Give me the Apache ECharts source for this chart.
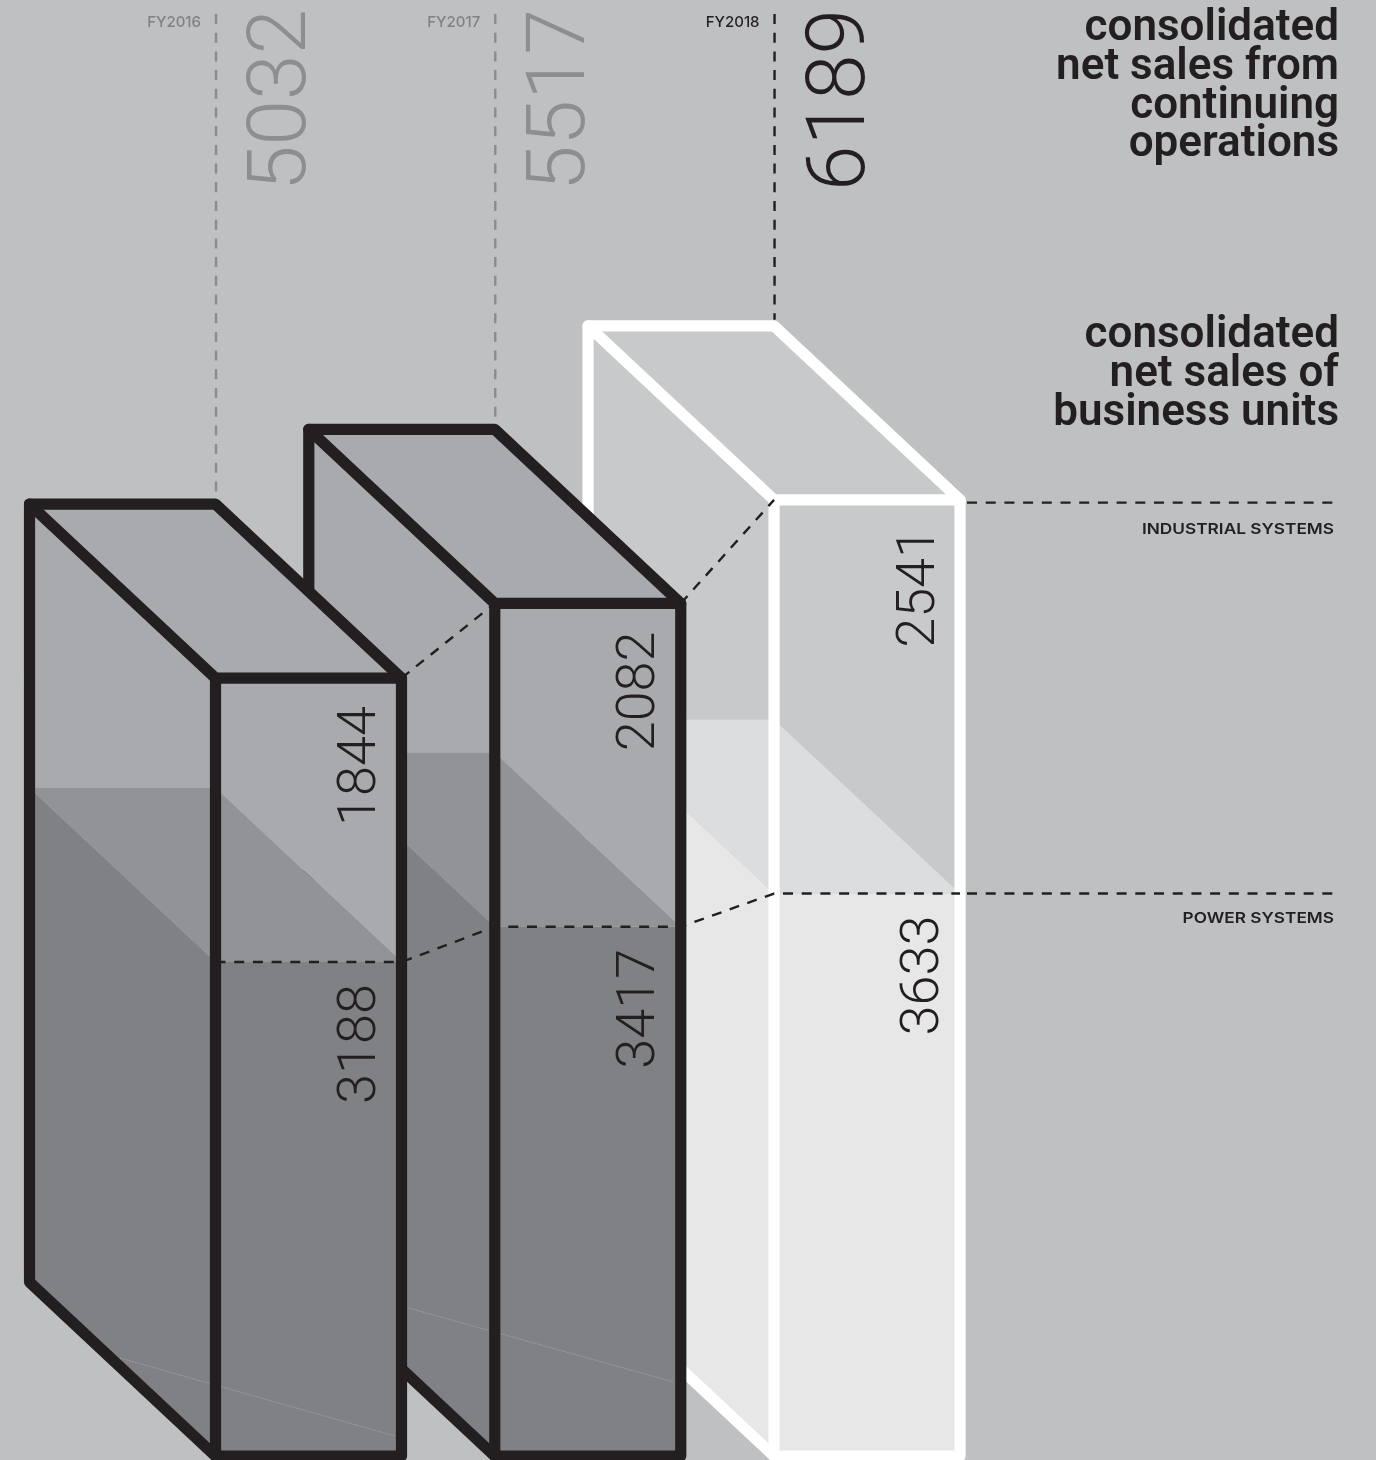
<!DOCTYPE html>
<html>
<head>
<meta charset="utf-8">
<title>Consolidated net sales</title>
<script src="https://cdn.jsdelivr.net/npm/echarts@6/dist/echarts.min.js"></script>
<style>
  html, body { margin: 0; padding: 0; background: #bfc0c2; }
  #chart { width: 1376px; height: 1460px; }
</style>
</head>
<body>
<div id="chart"></div>
<script>
// Net sales by fiscal year, split into the two business units.
const years = ['FY2016', 'FY2017', 'FY2018'];
const totalSales = [5032, 5517, 6189];
const powerSystems = [3188, 3417, 3633];
const industrialSystems = [1844, 2082, 2541];
const unitNames = ['INDUSTRIAL SYSTEMS', 'POWER SYSTEMS'];
const headingContinuing = ['consolidated', 'net sales from', 'continuing', 'operations'];
const headingUnits = ['consolidated', 'net sales of', 'business units'];

// Box shape, in axis units: front width / sideways depth, and the height the depth rises.
const BOX_WIDTH = 0.666;
const DEPTH_RISE = 1130;
const FLOOR = -20;
const LEADER_TOP = 9344;
const RULE_END = 4.005;
const TOP_RULE_DROP = 18;

const INK = '#231f20';
const DASH = [10, 8.7];
const palettes = [
  { stroke: INK, upper: '#a9aaae', middle: '#929396', lower: '#808185', leader: '#8a8b8e', total: '#8d8e90', year: '#808184', seam: [-95.5, -95, 179.5, -17], powerNudge: 0 },
  { stroke: INK, upper: '#a9aaae', middle: '#929396', lower: '#808185', leader: '#8a8b8e', total: '#8d8e90', year: '#808184', seam: [-90, -146, 179, -71], powerNudge: 0 },
  { stroke: '#ffffff', upper: '#c8c9cb', middle: '#dcdddf', lower: '#e7e7e7', leader: INK, total: INK, year: INK, seam: null, powerNudge: 4 }
];

const LIGHT_FONT = 'Roboto';
const LABEL_FONT = 'Inter';
const HEAD_FONT = 'Roboto';

function renderBox(params, api) {
  const i = api.value(0);
  const power = api.value(1);
  const industrial = api.value(2);
  const total = api.value(3);
  const look = palettes[i];
  const at = (x, v) => api.coord([x, v]);

  const back = i - BOX_WIDTH;
  const right = i + BOX_WIDTH;
  const topBack = total + DEPTH_RISE;
  const splitBack = power + DEPTH_RISE;
  const floorBack = FLOOR + DEPTH_RISE;

  const poly = (pts, fill) => ({ type: 'polygon', shape: { points: pts }, style: { fill: fill } });
  const stroke = (pts) => ({
    type: 'polyline',
    shape: { points: pts },
    style: { fill: 'none', stroke: look.stroke, lineWidth: 11.2, lineJoin: 'round', lineCap: 'round' }
  });

  const children = [];

  // Leader rising from the back corner to the year label.
  children.push({
    type: 'line',
    shape: { x1: at(i, LEADER_TOP)[0] + 0.5, y1: at(i, LEADER_TOP)[1], x2: at(i, topBack)[0] + 0.5, y2: at(i, topBack)[1] - 6 },
    style: { stroke: look.leader, lineWidth: 2.4, lineDash: DASH }
  });

  // Top face.
  children.push(poly([at(back, topBack), at(i, topBack), at(right, total), at(i, total)], look.upper));

  // Side face, light above, banded where the lower volume shows through.
  children.push(poly([at(back, topBack), at(i, total), at(i, splitBack), at(back, splitBack)], look.upper));
  children.push(poly([at(back, splitBack), at(i, splitBack), at(i, power)], look.middle));
  children.push(poly([at(back, splitBack), at(i, power), at(i, FLOOR), at(back, floorBack)], look.lower));

  // Front face.
  children.push(poly([at(i, total), at(right, total), at(right, power), at(i, splitBack)], look.upper));
  children.push(poly([at(i, splitBack), at(right, power), at(i, power)], look.middle));
  children.push(poly([at(i, power), at(right, power), at(right, FLOOR), at(i, FLOOR)], look.lower));

  // Faint seam across the lower part of the dark boxes.
  if (look.seam) {
    const base = at(i, 0);
    children.push({
      type: 'line',
      shape: { x1: base[0] + look.seam[0], y1: base[1] + look.seam[1], x2: base[0] + look.seam[2], y2: base[1] + look.seam[3] },
      style: { stroke: 'rgba(255,255,255,0.22)', lineWidth: 1, lineDash: [2, 1] }
    });
  }

  // Outline and inner edges.
  children.push(stroke([at(back, topBack), at(i, topBack), at(right, total), at(right, FLOOR), at(i, FLOOR), at(back, floorBack), at(back, topBack)]));
  children.push(stroke([at(back, topBack), at(i, total), at(right, total)]));
  children.push(stroke([at(i, total), at(i, FLOOR)]));

  const frontX = at(i, 0)[0];
  const rotated = (text, x, y, size, fill, align) => ({
    type: 'text',
    x: x,
    y: y,
    rotation: Math.PI / 2,
    style: { text: text, fontFamily: LIGHT_FONT, fontWeight: 300, fontSize: size, fill: fill, align: align, verticalAlign: 'middle' }
  });

  // Totals above the boxes, unit values on the front face.
  children.push(rotated(String(total), frontX + 69, 191, 82, look.total, 'left'));
  children.push(rotated(String(industrial), frontX + 146, at(i, total)[1] + 88, 54, INK, 'center'));
  children.push(rotated(String(power), frontX + 146 + look.powerNudge, at(i, power)[1] + 82, 54, INK, 'center'));

  // Year label beside the leader.
  children.push({
    type: 'text',
    x: frontX - 14.5,
    y: 22,
    style: { text: years[i], fontFamily: LABEL_FONT, fontWeight: 500, fontSize: 15, fill: look.year, align: 'right', verticalAlign: 'middle' }
  });

  return { type: 'group', children: children };
}

// Boxes are listed back to front so the nearer one covers the farther one.
const boxData = years.map((y, i) => [i, powerSystems[i], industrialSystems[i], totalSales[i]]).reverse();

// Dashed guides tying the unit boundary and the box tops together across the years.
const last = years.length - 1;
const boundaryGuide = [];
const topGuide = [];
years.forEach((y, i) => {
  boundaryGuide.push([i, powerSystems[i]], [i + BOX_WIDTH, powerSystems[i]]);
  if (i > 0) {
    topGuide.push([i - 1 + BOX_WIDTH, totalSales[i - 1]], [i, totalSales[i]], null);
  }
});
const boundaryRule = [[last + BOX_WIDTH + 0.025, powerSystems[last]], [RULE_END, powerSystems[last]]];
const topRule = [[last + BOX_WIDTH + 0.025, totalSales[last] - TOP_RULE_DROP], [RULE_END, totalSales[last] - TOP_RULE_DROP]];

function dashed(data) {
  return {
    type: 'line',
    data: data,
    symbol: 'none',
    silent: true,
    z: 5,
    connectNulls: false,
    lineStyle: { color: INK, width: 2.4, type: DASH }
  };
}

function heading(lines, y) {
  return {
    type: 'text',
    x: 1339,
    y: y,
    style: {
      text: lines.join('\n'),
      fontFamily: HEAD_FONT,
      fontWeight: 600,
      fontSize: 44,
      lineHeight: 38.6,
      fill: INK,
      align: 'right',
      verticalAlign: 'top'
    }
  };
}

// Unit names are set wide, so the line is stretched horizontally from its right end.
function unitLabel(text, y) {
  return {
    type: 'text',
    x: 1334,
    y: y,
    scaleX: 1.15,
    style: { text: text, fontFamily: LABEL_FONT, fontWeight: 600, fontSize: 15, fill: INK, align: 'right', verticalAlign: 'middle' }
  };
}

const chart = echarts.init(document.getElementById('chart'), null, { renderer: 'canvas' });
chart.setOption({
  backgroundColor: '#bfc0c2',
  animation: false,
  grid: { left: 0, right: 0, top: 0, bottom: 0 },
  xAxis: { type: 'value', min: -0.7717, max: 4.1555, show: false },
  yAxis: { type: 'value', min: -45.45, max: 9435, show: false },
  series: [
    { type: 'custom', data: boxData, renderItem: renderBox, silent: true, z: 2, clip: false },
    dashed(boundaryGuide),
    dashed(topGuide),
    dashed(boundaryRule),
    dashed(topRule)
  ],
  graphic: { elements: [
    heading(headingContinuing, 10),
    heading(headingUnits, 317),
    unitLabel(unitNames[0], 529.5),
    unitLabel(unitNames[1], 918.5)
  ] }
});
</script>
</body>
</html>
